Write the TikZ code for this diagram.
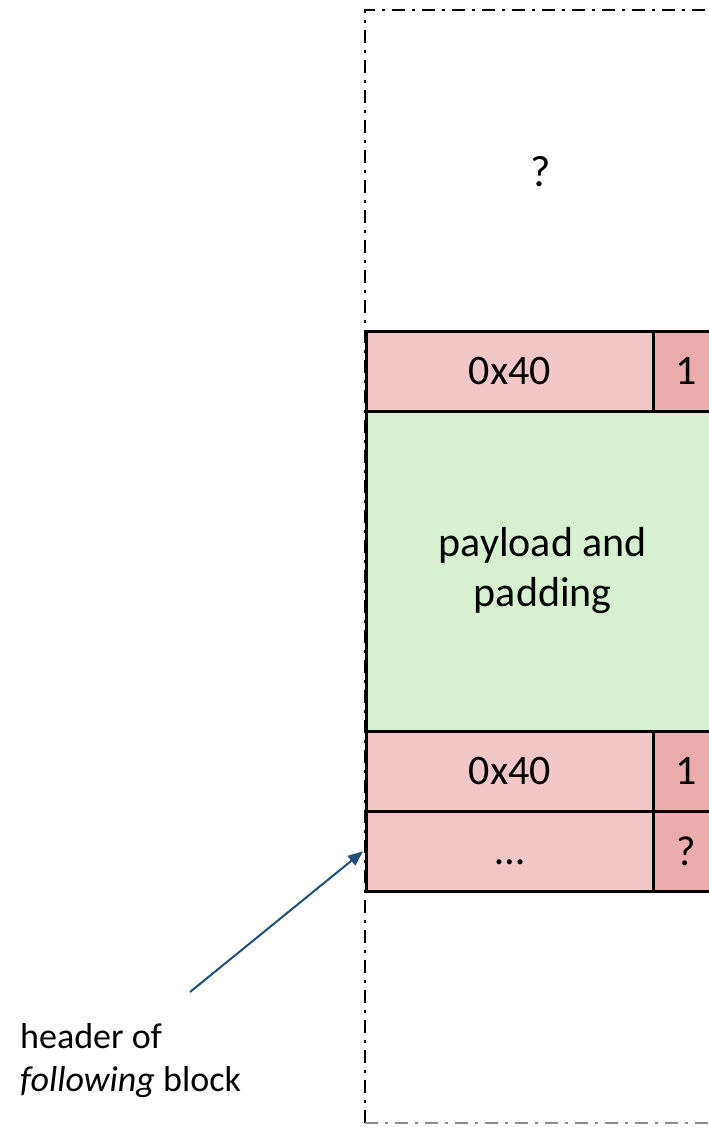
\documentclass[tikz,border=0pt]{standalone}
\usepackage{fontspec}
\setmainfont{Carlito}
\usetikzlibrary{arrows.meta}
\definecolor{hdrpink}{RGB}{241,198,198}
\definecolor{bitpink}{RGB}{234,172,172}
\definecolor{paygreen}{RGB}{214,240,208}
\definecolor{arrowblue}{RGB}{31,78,121}
\begin{document}
\begin{tikzpicture}[x=1pt,y=-1pt,
  cell/.style={draw=black,line width=2.6pt,anchor=north west,inner sep=0pt,
    font=\fontsize{42}{50}\selectfont,align=center},
  hdr/.style={cell,fill=hdrpink,minimum width=287pt,minimum height=80pt},
  bit/.style={cell,fill=bitpink,minimum width=66pt,minimum height=80pt},
  pay/.style={cell,fill=paygreen,minimum width=353pt,minimum height=321pt},
  outline/.style={line width=2.6pt,dash pattern=on 13pt off 7pt on 3pt off 7pt},
  lbl/.style={font=\fontsize{36}{43}\selectfont,align=left,anchor=north west,inner sep=0pt},
  pointer/.style={draw=arrowblue,line width=2pt,-{Triangle[length=15pt,width=12pt]}}
]
\useasboundingbox (0,0) rectangle (709,1127);
\clip (0,0) rectangle (709,1127);
\fill[white] (0,0) rectangle (709,1127);
% outline of the memory area
\draw[outline] (365,1123) -- (365,10) -- (760,10);
\draw[outline,black!45] (365,1123) -- (760,1123);
\node[font=\fontsize{44}{52}\selectfont] (unk) at (541,172) {?};
% first header
\node[pay] (payload) at (365,409) {payload and\\padding};
\node[hdr] (h1) at (365,330) {0x40};
\node[bit] (b1) at (652,330) {1};
% footer
\node[hdr] (h3) at (365,730) {0x40};
\node[bit] (b3) at (652,730) {1};
% header of following block
\node[hdr] (h4) at (365,810) {\vphantom{0x}\dots};
\node[bit] (b4) at (652,810) {?};
% label and arrow
\node[lbl] (label) at (20,1023) {header of\\\textit{following} block};
\coordinate (tail) at (190,992);
\draw[pointer] (tail) -- ([xshift=-2pt]h4.west);
\end{tikzpicture}
\end{document}
